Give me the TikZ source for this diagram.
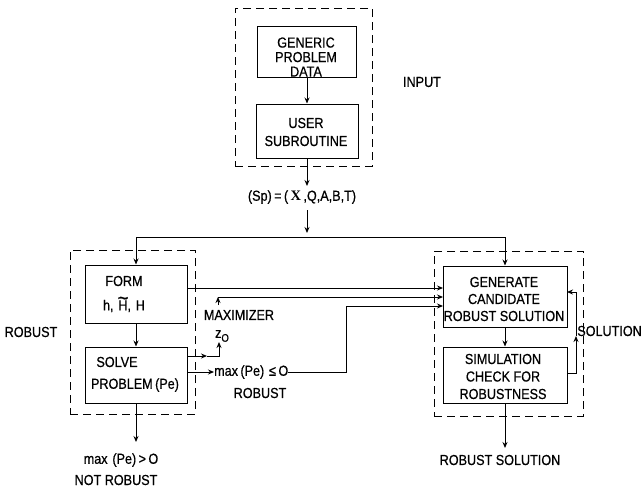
\documentclass[tikz,border=0pt]{standalone}
\usepackage{fontspec}
\setmainfont{Liberation Sans}[FakeStretch=0.87,FakeBold=0.6]
\newfontfamily\serifx{Liberation Serif}
\usetikzlibrary{arrows.meta}
\newcommand{\wtH}{\ooalign{H\cr\hidewidth\smash{\raisebox{0.36em}{\resizebox{0.74em}{!}{\char"007E}}}\hidewidth\cr}}
\begin{document}
\begin{tikzpicture}[x=1pt,y=-1pt,
  box/.style={draw, line width=1pt, inner sep=0pt},
  dbox/.style={draw, line width=0.9pt, dash pattern=on 8pt off 5pt, inner sep=0pt},
  lbl/.style={font=\fontsize{14.5}{14.5}\selectfont, inner sep=0pt, align=center},
  arr/.style={line width=0.9pt, -{Stealth[length=6pt,width=5pt]}},
  ln/.style={line width=0.9pt}]
\useasboundingbox (0,0) rectangle (643,491);

% dashed groups
\node[dbox, minimum width=137pt, minimum height=158pt] (inpbox) at (303.5,87) {};
\node[dbox, minimum width=125pt, minimum height=164pt] (robbox) at (132.5,332) {};
\node[dbox, minimum width=149pt, minimum height=165pt] (solbox) at (508.5,333.5) {};

% boxes
\node[box, minimum width=99pt, minimum height=51pt] (gpd) at (307,51.5) {};
\node[box, minimum width=102pt, minimum height=54pt] (user) at (307,131) {};
\node[box, minimum width=102pt, minimum height=58pt] (form) at (136,294) {};
\node[box, minimum width=102pt, minimum height=56pt] (solve) at (136,375) {};
\node[box, minimum width=124pt, minimum height=61pt] (gen) at (505,296.5) {};
\node[box, minimum width=124pt, minimum height=56pt] (sim) at (505,375) {};

% box texts
\node[lbl] (tgpd) at (306,57) {GENERIC\\PROBLEM\\DATA};
\node[lbl, font=\fontsize{14.5}{18}\selectfont] (tuser) at (306,132) {USER\\SUBROUTINE};
\node[lbl] (tform1) at (124,281) {FORM};
\node[lbl] (tform2) at (124,306) {h,\,\,\wtH,\,\,H};
\node[lbl] (tsolve1) at (117,362) {SOLVE};
\node[lbl] (tsolve2) at (135,385) {PROBLEM\,(Pe)};
\node[lbl, font=\fontsize{14.5}{17}\selectfont] (tgen) at (504,299) {GENERATE\\CANDIDATE\\ROBUST SOLUTION};
\node[lbl, font=\fontsize{14.5}{17.5}\selectfont] (tsim) at (503,376.5) {SIMULATION\\CHECK FOR\\ROBUSTNESS};

% free labels
\node[lbl] (input) at (422,82) {INPUT};
\node[lbl] (sp) at (302,197) {(Sp)\,=\,(\,{\serifx\bfseries X}\,,Q,A,B,T)};
\node[lbl] (robl) at (31,332) {ROBUST};
\node[lbl] (maxim) at (239,315) {MAXIMIZER};
\node[lbl] (zo) at (222,336) {z\raisebox{-0.5ex}{\fontsize{11}{11}\selectfont O}};
\node[lbl, anchor=west] (maxle) at (214,372) {max\,(Pe)\,\,≤\,O};
\node[lbl] (robm) at (260,393) {ROBUST};
\node[lbl, anchor=east] (solut) at (642,331) {SOLUTION};
\node[lbl] (maxgt) at (121,460) {max\,\,(Pe)\,>\,O};
\node[lbl] (notrob) at (116,480) {NOT ROBUST};
\node[lbl] (robsol) at (500,460) {ROBUST SOLUTION};

% coordinates
\coordinate (spa) at (307,186);
\coordinate (spb) at (307,210);
\coordinate (spc) at (307,233);
\coordinate (tl) at (136,237);
\coordinate (tr) at (505,237);
\coordinate (g1) at (443,288);
\coordinate (g2) at (443,297);
\coordinate (g3) at (443,306);
\coordinate (mx) at (218,297);
\coordinate (mxs) at (218,305);
\coordinate (s1) at (187,356);
\coordinate (s1m) at (207,356);
\coordinate (s1c) at (219,356);
\coordinate (s1e) at (219,342);
\coordinate (s2) at (187,372);
\coordinate (r1) at (346,372);
\coordinate (r2) at (346,306);
\coordinate (nb) at (136,442);
\coordinate (rb) at (505,448);
\coordinate (l1) at (567,373);
\coordinate (l2) at (576,373);
\coordinate (l3) at (576,336);
\coordinate (l4) at (576,292);
\coordinate (l5) at (567,292);

% connectors
\draw[arr] (gpd) -- (user);
\draw[arr] (user.south) -- (spa);
\draw[arr] (spb) -- (spc);
\draw[ln] (tl) -- (tr);
\draw[arr] (tl) -- (form.north);
\draw[arr] (tr) -- (gen.north);
\draw[arr] (form.east |- g1) -- (g1);
\draw[arr] (mx) -- (g2);
\draw[arr] (mxs) -- (mx);
\draw[arr] (s1) -- (s1m);
\draw[arr] (s1m) -- (s1c) -- (s1e);
\draw[arr] (s2) -- (maxle.west);
\draw[arr] (maxle.east) -- (r1) -- (r2) -- (g3);
\draw[arr] (form) -- (solve);
\draw[arr] (solve) -- (nb);
\draw[arr] (gen) -- (sim);
\draw[arr] (sim) -- (rb);
\draw[arr] (l1) -- (l2) -- (l3);
\draw[arr] (l3) -- (l4) -- (l5);
\end{tikzpicture}
\end{document}
